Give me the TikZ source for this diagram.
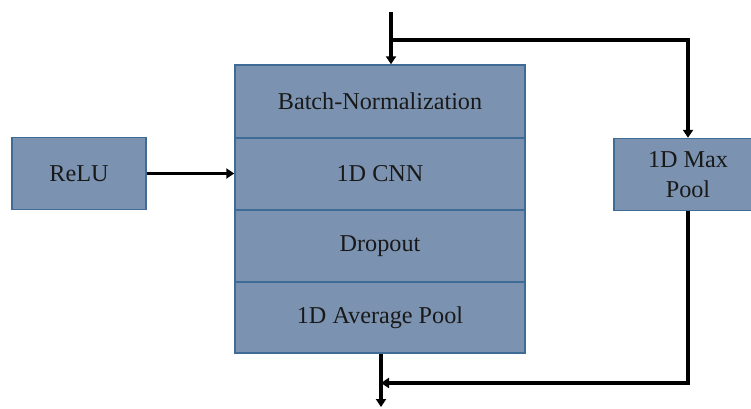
\documentclass[tikz,border=0pt]{standalone}
\usepackage{fontspec}
\setmainfont{Liberation Serif}
\usetikzlibrary{arrows.meta}
\definecolor{boxfill}{RGB}{123,147,176}
\definecolor{boxline}{RGB}{62,108,150}
\tikzset{
  block/.style={draw=boxline, line width=1.4pt, fill=boxfill, inner sep=0pt,
    font=\fontsize{24.2}{30}\selectfont, text=black!90, align=center},
  wire/.style={line width=3.3pt, black},
  arr/.style={wire, -{Triangle[width=10pt,length=8pt]}}
}
\begin{document}
\begin{tikzpicture}[x=1pt,y=-1pt]
  \clip (0,0) rectangle (751,408);
  \fill[white] (0,0) rectangle (751,408);
  % layer stack
  \node[block, minimum width=290pt, minimum height=73pt] (bn)   at (380,101.5) {Batch-Normalization};
  \node[block, minimum width=290pt, minimum height=72pt] (cnn)  at (380,174) {1D CNN};
  \node[block, minimum width=290pt, minimum height=72pt] (drop) at (380,246) {Dropout};
  \node[block, minimum width=290pt, minimum height=71pt] (avg)  at (380,317.5) {1D Average Pool};
  % side blocks
  \node[block, minimum width=134pt, minimum height=72pt] (relu) at (79,173.5) {ReLU};
  \node[block, minimum width=148pt, minimum height=72pt] (maxp) at (688,174.5) {1D Max\\Pool};
  % wiring
  \coordinate (in) at (391,12);
  \coordinate (split) at (391,40);
  \coordinate (join) at (381,383);
  \coordinate (out) at (381,407);
  \draw[arr] (in) -- (in |- bn.north);
  \draw[arr] (split) -| (maxp.north);
  \draw[arr] (relu.east) -- (cnn.west |- relu.east);
  \draw[wire] (avg.south -| join) -- (join);
  \draw[arr] (join) -- (out);
  \draw[arr] (maxp.south) |- (join);
\end{tikzpicture}
\end{document}
